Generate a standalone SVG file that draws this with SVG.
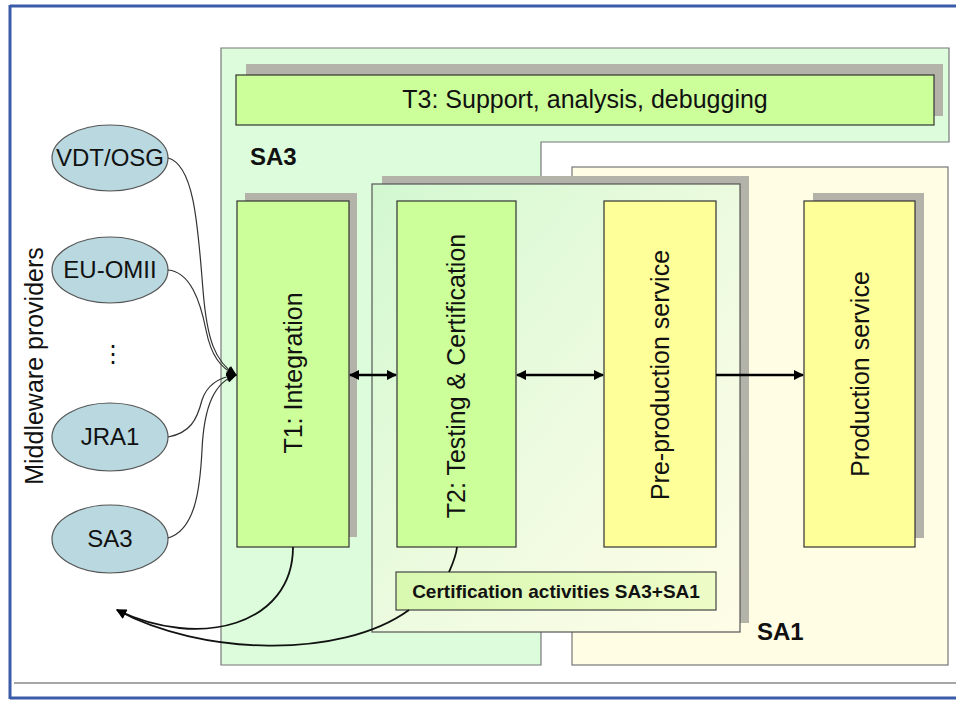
<svg xmlns="http://www.w3.org/2000/svg" width="956" height="702" viewBox="0 0 956 702">
<defs>
<style>
.lbl{font-family:"Liberation Sans",Arial,sans-serif;fill:#111;}
.big{font-size:25px;}
.ell{fill:#b9d8e0;stroke:#555;stroke-width:1.2;}
.ellt{font-family:"Liberation Sans",Arial,sans-serif;font-size:24px;fill:#111;text-anchor:middle;}
.green{fill:#ccff99;stroke:#333;stroke-width:1.2;}
.yellow{fill:#ffff99;stroke:#333;stroke-width:1.2;}
.shadow{fill:#b3b3aa;}
.bold{font-weight:bold;}
.thin{fill:none;stroke:#333;stroke-width:1.2;}
.thick{fill:none;stroke:#000;stroke-width:2.5;}
.curve{fill:none;stroke:#111;stroke-width:1.8;}
</style>
<linearGradient id="gInner" x1="0" y1="0" x2="1" y2="1">
<stop offset="0" stop-color="#d2f8d0"/>
<stop offset="0.55" stop-color="#eefbe0"/>
<stop offset="1" stop-color="#fffde8"/>
</linearGradient>
<linearGradient id="gCert" x1="0" y1="0" x2="1" y2="0">
<stop offset="0" stop-color="#d8f8b0"/>
<stop offset="1" stop-color="#eefcc8"/>
</linearGradient>
<marker id="ah" viewBox="0 0 10 10" refX="9" refY="5" markerWidth="11" markerHeight="10" markerUnits="userSpaceOnUse" orient="auto-start-reverse">
<path d="M0,0 L10,5 L0,10 z" fill="#000"/>
</marker>
</defs>

<rect width="956" height="702" fill="#fff"/>

<g id="frame">
<line x1="14" y1="683" x2="956" y2="683" stroke="#888" stroke-width="1.5"/>
<line x1="10" y1="6" x2="956" y2="6" stroke="#3a5ba8" stroke-width="3"/>
<line x1="10" y1="698" x2="956" y2="698" stroke="#3a5ba8" stroke-width="3"/>
<line x1="10" y1="5" x2="10" y2="699" stroke="#3a5ba8" stroke-width="3"/>
</g>

<g id="sa3-region">
<polygon points="221,48 949,48 949,142 541,142 541,665 221,665" fill="#dcfcdc" stroke="#777" stroke-width="1.2"/>
<text class="lbl bold" x="250" y="165" font-size="24">SA3</text>
</g>

<g id="sa1-region">
<rect x="572" y="167" width="376" height="498" fill="#fffde4" stroke="#777" stroke-width="1.2"/>
<text class="lbl bold" x="757" y="640" font-size="24">SA1</text>
</g>

<g id="t3">
<rect class="shadow" x="246" y="64" width="697" height="52"/>
<rect class="green" x="236" y="75" width="698" height="50"/>
<text class="lbl big" x="585" y="108" text-anchor="middle">T3: Support, analysis, debugging</text>
</g>

<g id="shared-box">
<rect class="shadow" x="382" y="176" width="367" height="447"/>
<rect x="372" y="184" width="368" height="448" fill="url(#gInner)" stroke="#555" stroke-width="1.2"/>
</g>

<g id="t1">
<rect class="shadow" x="245" y="193" width="112" height="344"/>
<rect class="green" x="237" y="201" width="112" height="346"/>
<text class="lbl big" transform="translate(302,373) rotate(-90)" text-anchor="middle">T1: Integration</text>
</g>

<g id="t2">
<rect class="green" x="397" y="201" width="119" height="346"/>
<text class="lbl big" transform="translate(465,376) rotate(-90)" text-anchor="middle">T2: Testing &amp; Certification</text>
</g>

<g id="preprod">
<rect class="yellow" x="604" y="201" width="112" height="346"/>
<text class="lbl big" transform="translate(669,375) rotate(-90)" text-anchor="middle">Pre-production service</text>
</g>

<g id="prod">
<rect class="shadow" x="813" y="193" width="111" height="345"/>
<rect class="yellow" x="804" y="201" width="111" height="346"/>
<text class="lbl big" transform="translate(869,374) rotate(-90)" text-anchor="middle">Production service</text>
</g>

<g id="cert">
<rect x="396" y="572" width="320" height="38" fill="url(#gCert)" stroke="#444" stroke-width="1.2"/>
<text class="lbl bold" x="556" y="598" font-size="19" text-anchor="middle">Certification activities SA3+SA1</text>
</g>

<g id="providers-label">
<text class="lbl big" transform="translate(43,366) rotate(-90)" text-anchor="middle">Middleware providers</text>
</g>

<g id="vdt">
<ellipse class="ell" cx="110" cy="158" rx="58" ry="33"/>
<text class="ellt" x="110" y="166">VDT/OSG</text>
</g>
<g id="euomii">
<ellipse class="ell" cx="110" cy="270" rx="58" ry="33"/>
<text class="ellt" x="110" y="278">EU-OMII</text>
</g>
<g id="dots">
<text class="ellt" x="113" y="362" font-size="20">⋮</text>
</g>
<g id="jra1">
<ellipse class="ell" cx="110" cy="437" rx="58" ry="34"/>
<text class="ellt" x="110" y="445">JRA1</text>
</g>
<g id="sa3">
<ellipse class="ell" cx="110" cy="539" rx="58" ry="34"/>
<text class="ellt" x="110" y="547">SA3</text>
</g>

<g id="connectors">
<path class="thin" d="M168,158 C195,165 198,230 203,290 C207,340 215,362 236,375" marker-end="url(#ah)"/>
<path class="thin" d="M168,270 C190,272 200,300 206,330 C211,355 220,368 236,375" marker-end="url(#ah)"/>
<path class="thin" d="M168,437 C190,433 197,420 202,400 C207,385 220,377 236,375" marker-end="url(#ah)"/>
<path class="thin" d="M168,538 C195,530 200,490 202,450 C204,405 215,382 236,375" marker-end="url(#ah)"/>
<line class="thick" x1="350" y1="375" x2="396" y2="375" marker-start="url(#ah)" marker-end="url(#ah)"/>
<line class="thick" x1="517" y1="375" x2="603" y2="375" marker-start="url(#ah)" marker-end="url(#ah)"/>
<line class="thick" x1="716" y1="375" x2="803" y2="375" marker-end="url(#ah)"/>
<path class="curve" d="M457,547 C456,557 452,565 449,572"/>
<path class="curve" d="M293,547 C293,625 200,650 117,610" marker-end="url(#ah)"/>
<path class="curve" d="M409,610 C340,660 200,655 117,610" marker-end="url(#ah)"/>
</g>
</svg>
